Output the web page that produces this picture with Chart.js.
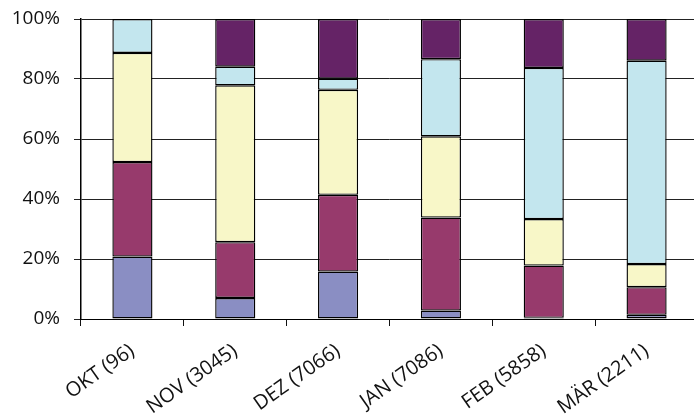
<!DOCTYPE html>
<html>
<head>
<meta charset="utf-8">
<script src="https://cdn.jsdelivr.net/npm/chart.js@4"></script>
<style>
  html, body { margin: 0; padding: 0; background: #fff; overflow: hidden; }
  #wrap { position: relative; width: 698px; height: 415px; }
</style>
</head>
<body>
<div id="wrap"><canvas id="chart"></canvas></div>
<script>
// Monthly share of five groups (percent of the month's total, count in brackets)
const categories = ['OKT (96)', 'NOV (3045)', 'DEZ (7066)', 'JAN (7086)', 'FEB (5858)', 'MÄR (2211)'];

const seriesA = [20.8, 7.0, 15.8, 2.8, 0.4, 1.4];
const seriesB = [31.5, 18.6, 25.6, 31.0, 17.4, 9.2];
const seriesC = [36.4, 52.3, 35.0, 27.1, 15.5, 7.7];
const seriesD = [11.3, 6.2, 3.7, 25.7, 50.4, 67.8];
const seriesE = [0.0, 15.9, 19.9, 13.4, 16.3, 13.9];

const yTicks = [0, 20, 40, 60, 80, 100];

const colors = ['#8A8EC3', '#973A6C', '#F8F7C8', '#C3E6EE', '#652366'];
const seriesList = [seriesA, seriesB, seriesC, seriesD, seriesE];

const datasets = seriesList.map((values, i) => ({
  label: 'S' + (i + 1),
  data: values,
  backgroundColor: colors[i],
  borderColor: '#000',
  borderWidth: 1.4,
  borderSkipped: false,
  categoryPercentage: 1.0,
  barPercentage: 0.39
}));

const family = '"Open Sans", "Liberation Sans", sans-serif';

new Chart(document.getElementById('chart'), {
  type: 'bar',
  data: { labels: categories, datasets },
  options: {
    responsive: true,
    maintainAspectRatio: false,
    animation: false,
    layout: { padding: { top: 19, right: 0, bottom: 0, left: 0 } },
    plugins: { legend: { display: false }, tooltip: { enabled: false } },
    scales: {
      x: {
        stacked: true,
        offset: true,
        grid: {
          offset: true,
          drawOnChartArea: false,
          drawTicks: true,
          tickLength: 7,
          color: '#111'
        },
        border: { color: '#000', width: 1 },
        ticks: {
          color: '#111',
          font: { family, size: 20 },
          maxRotation: 35,
          minRotation: 35,
          padding: 13,
          autoSkip: false
        },
        afterFit: (scale) => {
          scale.height = 96;
          scale.paddingLeft = 0;
          scale.paddingRight = 0;
        }
      },
      y: {
        stacked: true,
        min: 0,
        max: 100,
        afterBuildTicks: (scale) => { scale.ticks = yTicks.map(v => ({ value: v })); },
        grid: { color: '#222', lineWidth: 1, tickLength: 7 },
        border: { color: '#000', width: 1.5 },
        ticks: {
          color: '#111',
          font: { family, size: 19 },
          padding: 14,
          callback: (v) => v + '%'
        },
        afterFit: (scale) => {
          scale.width = 81;
          scale.paddingTop = 0;
          scale.paddingBottom = 0;
        }
      }
    }
  }
});
</script>
</body>
</html>
